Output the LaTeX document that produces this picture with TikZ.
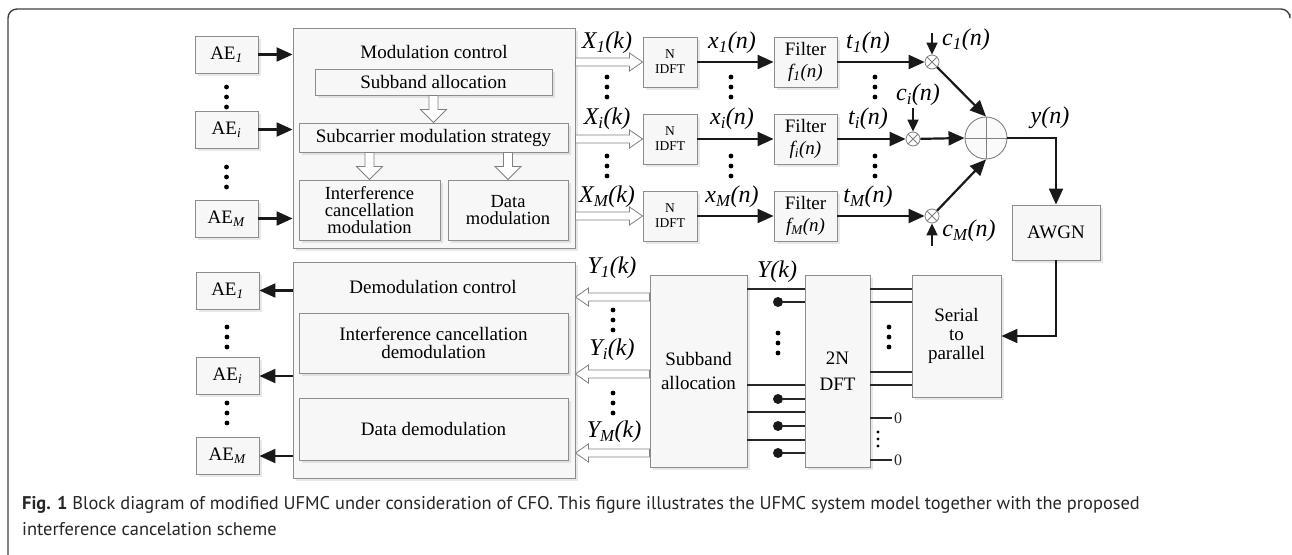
\documentclass[tikz,border=0pt]{standalone}
\usepackage{fontspec}
\setmainfont{Liberation Serif}
\newfontfamily\capfont{PT Sans}
\usetikzlibrary{arrows.meta,calc,shadows}

\newcommand\sig[3]{\textit{#1\textsubscript{#2}(#3)}}
\newcommand\AEx[1]{AE\textsubscript{\textit{#1}}}
\newcommand\vdts[2][10]{\foreach \dd in {-1,0,1} \fill ($(#2)+(0,#1*\dd)$) circle (#1*0.24);}

\begin{document}
\begin{tikzpicture}[x=1pt, y=-1pt, font=\fontsize{19}{21}\selectfont]
 \tikzstyle{bloc}=[draw=black!45, fill=black!3, line width=0.9pt, align=center, inner sep=1pt, drop shadow={opacity=0.18, shadow xshift=2.5pt, shadow yshift=-2.5pt}]
 \tikzstyle{serre}=[font=\fontsize{18.5}{17}\selectfont]
 \tikzstyle{lab}=[font=\fontsize{24}{26}\selectfont, inner sep=1pt]
 \tikzstyle{fleche}=[-{Triangle[length=16pt, width=14pt]}, line width=2.2pt, black!90]
 \tikzstyle{petite}=[-{Triangle[length=12pt, width=11pt]}, line width=1.8pt, black!90]
 \tikzstyle{fil}=[line width=2pt, black!85]
 \tikzstyle{mult}=[circle, draw=black!50, fill=white, line width=0.8pt, minimum size=14, inner sep=0pt, path picture={\draw[black!50, line width=0.8pt] (path picture bounding box.north west) -- (path picture bounding box.south east) (path picture bounding box.north east) -- (path picture bounding box.south west);}]
 \tikzstyle{somme}=[circle, draw=black!50, fill=black!2, line width=0.9pt, minimum size=42, inner sep=0pt, path picture={\draw[black!50, line width=0.8pt] (path picture bounding box.north) -- (path picture bounding box.south) (path picture bounding box.west) -- (path picture bounding box.east);}]
 \tikzstyle{pastille}=[circle, fill=black!90, minimum size=10, inner sep=0pt]
 \tikzstyle{creuxR}=[draw=black!50, fill=white, line width=0.8pt, to path={($(\tikztostart)+(0,-4)$) -- ($(\tikztotarget)+(-13,-4)$) -- ($(\tikztotarget)+(-13,-9)$) -- (\tikztotarget) -- ($(\tikztotarget)+(-13,9)$) -- ($(\tikztotarget)+(-13,4)$) -- ($(\tikztostart)+(0,4)$) -- cycle}]
 \tikzstyle{creuxL}=[draw=black!50, fill=white, line width=0.8pt, to path={($(\tikztostart)+(0,-4)$) -- ($(\tikztotarget)+(13,-4)$) -- ($(\tikztotarget)+(13,-9)$) -- (\tikztotarget) -- ($(\tikztotarget)+(13,9)$) -- ($(\tikztotarget)+(13,4)$) -- ($(\tikztostart)+(0,4)$) -- cycle}]
 \tikzstyle{creuxD}=[draw=black!50, fill=white, line width=0.8pt, to path={($(\tikztostart)+(-4.5,0)$) -- ($(\tikztotarget)+(-4.5,-13)$) -- ($(\tikztotarget)+(-13,-13)$) -- (\tikztotarget) -- ($(\tikztotarget)+(13,-13)$) -- ($(\tikztotarget)+(4.5,-13)$) -- ($(\tikztostart)+(4.5,0)$) -- cycle}]
 \useasboundingbox (0,0) rectangle (1292,554);
 %
 \draw[black!75, line width=1.4pt, rounded corners=9pt] (8,556) -- (8,9) -- (1290,9) -- (1290,14);
 %
 \node[bloc, minimum width=63, minimum height=37] (ae1) at (226.5,54.5) {\AEx{1}};
 \node[bloc, minimum width=63, minimum height=37] (aei) at (226.5,129.5) {\AEx{i}};
 \node[bloc, minimum width=63, minimum height=37] (aeM) at (226.5,218.5) {\AEx{M}};
 \vdts{226.5,97} \vdts{226.5,177}
 %
 \node[bloc, minimum width=282, minimum height=220] (mod) at (434,138) {};
 \node (modtxt) at (434,52) {Modulation control};
 \node[bloc, minimum width=237, minimum height=26] (sb) at (433.5,82) {Subband allocation};
 \node[bloc, minimum width=269, minimum height=29] (scs) at (433.5,137.5) {Subcarrier modulation strategy};
 \node[bloc, serre, minimum width=141, minimum height=60] (icm) at (369.5,210) {Interference\\cancellation\\modulation};
 \node[bloc, serre, minimum width=120, minimum height=60] (dm) at (508,210) {Data\\modulation};
 \draw[creuxD] (sb.south) to (scs.north);
 \draw[creuxD] (scs.south -| icm.north) to (icm.north);
 \draw[creuxD] (scs.south -| dm.north) to (dm.north);
 %
 \draw[fleche] (ae1) -- (ae1 -| mod.west);
 \draw[fleche] (aei) -- (aei -| mod.west);
 \draw[fleche] (aeM) -- (aeM -| mod.west);
 %
 \node[bloc, minimum width=54, minimum height=50, font=\fontsize{13.5}{15}\selectfont] (idft1) at (670,62) {N\\IDFT};
 \node[bloc, minimum width=54, minimum height=50, font=\fontsize{13.5}{15}\selectfont] (idfti) at (670,139) {N\\IDFT};
 \node[bloc, minimum width=54, minimum height=50, font=\fontsize{13.5}{15}\selectfont] (idftM) at (670,216) {N\\IDFT};
 \node[bloc, minimum width=63, minimum height=50, font=\fontsize{19}{22}\selectfont] (filt1) at (805.5,62) {Filter\\\sig{f}{1}{n}};
 \node[bloc, minimum width=63, minimum height=50, font=\fontsize{19}{22}\selectfont] (filti) at (805.5,139) {Filter\\\sig{f}{i}{n}};
 \node[bloc, minimum width=63, minimum height=50, font=\fontsize{19}{22}\selectfont] (filtM) at (805.5,216) {Filter\\\sig{f}{M}{n}};
 \node[mult] (m1) at (932,62) {};
 \node[mult] (mi) at (913,139) {};
 \node[mult] (mM) at (932,216) {};
 \node[somme] (add) at (986,138) {};
 %
 \draw[creuxR] (mod.east |- idft1.west) to (idft1.west);
 \draw[creuxR] (mod.east |- idfti.west) to (idfti.west);
 \draw[creuxR] (mod.east |- idftM.west) to (idftM.west);
 \draw[fleche] (idft1) -- (filt1);
 \draw[fleche] (idfti) -- (filti);
 \draw[fleche] (idftM) -- (filtM);
 \draw[fleche] (filt1) -- (m1);
 \draw[fleche] (filti) -- (mi);
 \draw[fleche] (filtM) -- (mM);
 \draw[fleche] (m1) -- (add.north);
 \draw[fleche] (mi) -- (add.west);
 \draw[fleche] (mM) -- (add.south);
 %
 \node[lab] (X1) at (607,43) {\sig{X}{1}{k}};
 \node[lab] (Xi) at (607,119) {\sig{X}{i}{k}};
 \node[lab] (XM) at (607,197) {\sig{X}{M}{k}};
 \node[lab] (x1) at (732,43) {\sig{x}{1}{n}};
 \node[lab] (xi) at (732,119) {\sig{x}{i}{n}};
 \node[lab] (xM) at (732,197) {\sig{x}{M}{n}};
 \node[lab] (t1) at (868,43) {\sig{t}{1}{n}};
 \node[lab] (ti) at (868,119) {\sig{t}{i}{n}};
 \node[lab] (tM) at (868,197) {\sig{t}{M}{n}};
 \vdts{607,87} \vdts{607,166} \vdts{731,87} \vdts{731,166} \vdts{875,87} \vdts{875,166}
 %
 \coordinate (c1s) at (932,33);
 \coordinate (cis) at (913,108);
 \coordinate (cMs) at (932,246);
 \draw[petite] (c1s) -- (m1);
 \draw[petite] (cis) -- (mi);
 \draw[petite] (cMs) -- (mM);
 \node[lab] (c1) at (966,40) {\sig{c}{1}{n}};
 \node[lab] (ci) at (918,95) {\sig{c}{i}{n}};
 \node[lab] (cM) at (969,231) {\sig{c}{M}{n}};
 %
 \node[bloc, minimum width=88, minimum height=55] (awgn) at (1056,232.5) {AWGN};
 \node[lab] (yn) at (1050,118) {\textit{y(n)}};
 \draw[fleche] (add.east) -| (awgn.north);
 %
 \node[bloc, minimum width=89, minimum height=122, font=\fontsize{19}{19}\selectfont] (sp) at (956.5,336) {Serial\\to\\parallel};
 \node[bloc, minimum width=65, minimum height=192] (dft) at (837.5,371) {2N\\[5pt]DFT};
 \node[bloc, minimum width=97, minimum height=192] (sa) at (698.5,371) {Subband\\[3pt]allocation};
 \draw[fleche] (awgn.south) |- (sp.east);
 \foreach \yy in {289,302,372,385} \draw[fil] (dft.east |- 0,\yy) -- (sp.west |- 0,\yy);
 \vdts{889,337}
 \foreach \yy [count=\i] in {418,460} \draw[fil, line width=1.3pt] (dft.east |- 0,\yy) -- ++(22,0) node[right, inner sep=1pt, font=\fontsize{16}{16}\selectfont] (z\i) {0};
 \vdts[7]{878,439}
 \foreach \yy in {289,385,412,440} \draw[fil] (sa.east |- 0,\yy) -- (dft.west |- 0,\yy);
 \foreach \yy [count=\i] in {302,399,426,453} {
  \node[pastille] (p\i) at (778,\yy) {};
  \draw[fil] (p\i) -- (p\i -| dft.west);
 }
 \vdts{778,343}
 \node[lab] (Yk) at (777,272) {\textit{Y(k)}};
 %
 \node[bloc, minimum width=282, minimum height=216] (dem) at (434,370) {};
 \node (demtxt) at (433,287) {Demodulation control};
 \node[bloc, minimum width=269, minimum height=60, font=\fontsize{19}{18}\selectfont] (icd) at (433.5,343) {Interference cancellation\\demodulation};
 \node[bloc, minimum width=269, minimum height=62] (dd) at (433.5,429) {Data demodulation};
 \draw[creuxL] (sa.west |- 0,297) to (dem.east |- 0,297);
 \draw[creuxL] (sa.west |- 0,374) to (dem.east |- 0,374);
 \draw[creuxL] (sa.west |- 0,453) to (dem.east |- 0,453);
 \node[lab] (Y1) at (612,268) {\sig{Y}{1}{k}};
 \node[lab] (Yi) at (612,350) {\sig{Y}{i}{k}};
 \node[lab] (YM) at (614,432) {\sig{Y}{M}{k}};
 \vdts{613,320} \vdts{613,403}
 %
 \node[bloc, minimum width=63, minimum height=37] (ae1b) at (227.5,290.5) {\AEx{1}};
 \node[bloc, minimum width=63, minimum height=37] (aeib) at (227.5,376) {\AEx{i}};
 \node[bloc, minimum width=63, minimum height=37] (aeMb) at (227.5,456) {\AEx{M}};
 \vdts{227,337} \vdts{227,413}
 \draw[fleche] (ae1b -| dem.west) -- (ae1b);
 \draw[fleche] (aeib -| dem.west) -- (aeib);
 \draw[fleche] (aeMb -| dem.west) -- (aeMb);
 %
 \node[anchor=north west, align=left, inner sep=0pt, text=black!85, font=\capfont\fontsize{18.4}{26}\selectfont] (cap) at (22,496) {\textbf{Fig. 1} Block diagram of modified UFMC under consideration of CFO. This figure illustrates the UFMC system model together with the proposed\\interference cancelation scheme};
\end{tikzpicture}
\end{document}
